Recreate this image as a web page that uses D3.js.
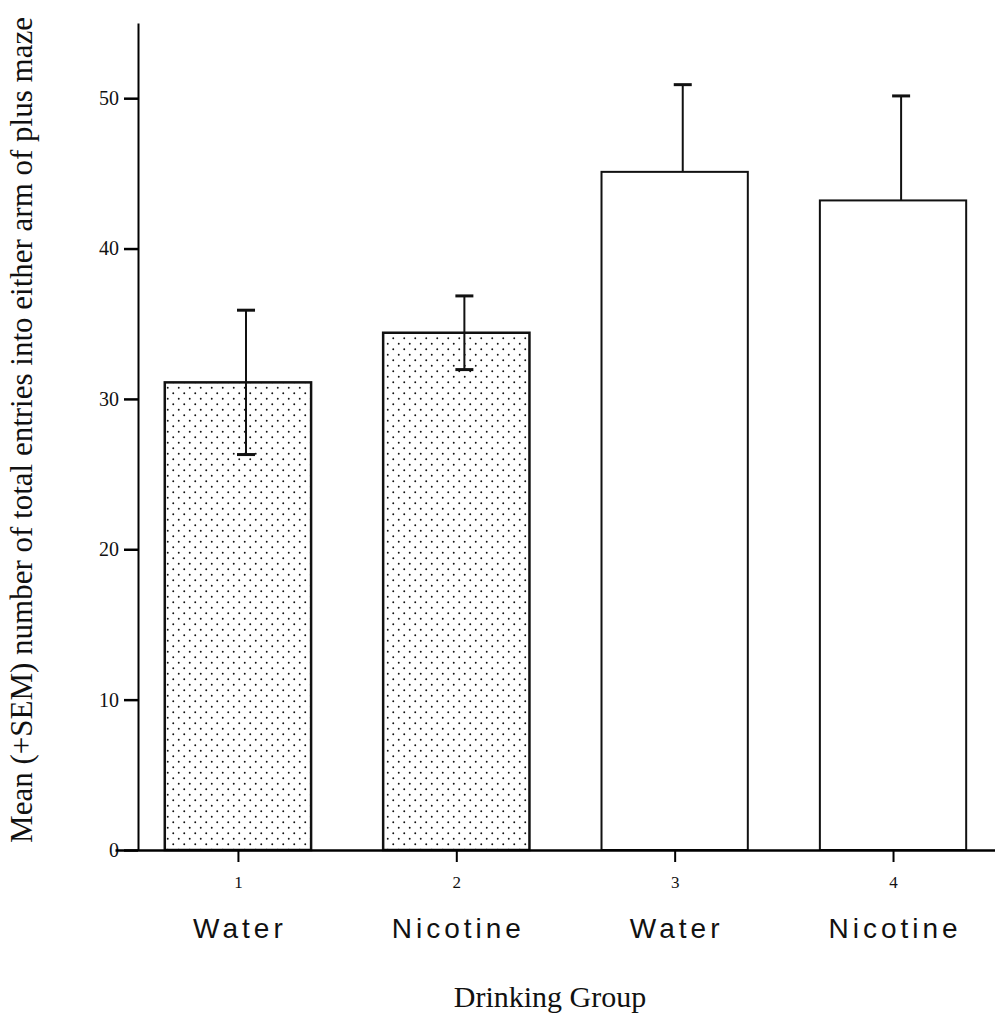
<!DOCTYPE html>
<html>
<head>
<meta charset="utf-8">
<script src="https://cdn.jsdelivr.net/npm/d3@7"></script>
<style>
  body { margin: 0; background: #fff; }
  svg { display: block; }
</style>
</head>
<body>
<div id="chart"></div>
<script>
// Data
const groups = [1, 2, 3, 4];
const groupNames = ["Water", "Nicotine", "Water", "Nicotine"];
const means = [31.1, 34.4, 45.1, 43.2];
const sems = [4.8, 2.45, 5.8, 6.95];
const showLower = [true, true, false, false];
const stippled = [true, true, false, false];
const yTicks = [0, 10, 20, 30, 40, 50];

const width = 995, height = 1014;

const svg = d3.select("#chart")
  .append("svg")
  .attr("width", width)
  .attr("height", height);

// stipple pattern for the first two bars
const defs = svg.append("defs");
const pat = defs.append("pattern")
  .attr("id", "dots")
  .attr("patternUnits", "userSpaceOnUse")
  .attr("width", 11)
  .attr("height", 11);
pat.append("rect").attr("width", 11).attr("height", 11).attr("fill", "#fff");
pat.append("circle").attr("cx", 2.75).attr("cy", 2.75).attr("r", 0.95).attr("fill", "#111");
pat.append("circle").attr("cx", 8.25).attr("cy", 8.25).attr("r", 0.95).attr("fill", "#111");

// Scales
const x = d3.scaleLinear()
  .domain([0.437, 4.467])
  .range([115, 995]);

const y = d3.scaleLinear()
  .domain([0, 55])
  .range([850, 23]);

const barHalf = 0.335;
const errOffset = 0.037;

// Bars
svg.append("g")
  .selectAll("rect")
  .data(groups)
  .enter().append("rect")
  .attr("x", (d, i) => x(d - barHalf))
  .attr("y", (d, i) => y(means[i]))
  .attr("width", d => x(d + barHalf) - x(d - barHalf))
  .attr("height", (d, i) => y(0) - y(means[i]))
  .attr("fill", (d, i) => stippled[i] ? "url(#dots)" : "#fff")
  .attr("stroke", "#111")
  .attr("stroke-width", (d, i) => stippled[i] ? 2.5 : 2);

// Error bars
const err = svg.append("g").attr("stroke", "#111");
groups.forEach((g, i) => {
  const ex = x(g + errOffset);
  const top = y(means[i] + sems[i]);
  const bot = showLower[i] ? y(means[i] - sems[i]) : y(means[i]);
  err.append("line")
    .attr("x1", ex).attr("x2", ex)
    .attr("y1", top).attr("y2", bot)
    .attr("stroke-width", 2);
  err.append("line")
    .attr("x1", ex - 9).attr("x2", ex + 9)
    .attr("y1", top).attr("y2", top)
    .attr("stroke-width", 3);
  if (showLower[i]) {
    err.append("line")
      .attr("x1", ex - 9).attr("x2", ex + 9)
      .attr("y1", bot).attr("y2", bot)
      .attr("stroke-width", 3);
  }
});

// Y axis
const yAxis = svg.append("g")
  .attr("transform", "translate(138,0)")
  .call(d3.axisLeft(y).tickValues(yTicks).tickSize(14).tickPadding(5).tickSizeOuter(0));
yAxis.select(".domain").attr("stroke-width", 2);
yAxis.selectAll(".tick line").attr("stroke-width", 2.5);
yAxis.selectAll(".tick text")
  .style("font-family", "'Liberation Serif', 'Times New Roman', serif")
  .style("font-size", "20px")
  .attr("fill", "#111");

// X axis
const xAxis = svg.append("g")
  .attr("transform", "translate(0,850)")
  .call(d3.axisBottom(x).tickValues(groups).tickFormat(d3.format("d"))
    .tickSize(12).tickPadding(14).tickSizeOuter(0));
xAxis.select(".domain").attr("stroke-width", 2.5);
xAxis.selectAll(".tick line").attr("stroke-width", 2);
xAxis.selectAll(".tick text")
  .style("font-family", "'Liberation Serif', 'Times New Roman', serif")
  .style("font-size", "17px")
  .attr("fill", "#111");

// Group names under the ticks
svg.append("g")
  .selectAll("text")
  .data(groups)
  .enter().append("text")
  .attr("x", d => x(d) + 2)
  .attr("y", 938)
  .style("text-anchor", "middle")
  .style("font-family", "'Liberation Sans', Arial, sans-serif")
  .style("font-size", "28px")
  .style("letter-spacing", "4px")
  .attr("fill", "#111")
  .text((d, i) => groupNames[i]);

// Axis titles
svg.append("text")
  .attr("x", 550)
  .attr("y", 1007)
  .style("text-anchor", "middle")
  .style("font-family", "'Liberation Serif', 'Times New Roman', serif")
  .style("font-size", "30px")
  .attr("fill", "#111")
  .text("Drinking Group");

svg.append("text")
  .attr("transform", "translate(32,430) rotate(-90)")
  .style("text-anchor", "middle")
  .style("font-family", "'Liberation Serif', 'Times New Roman', serif")
  .style("font-size", "31px")
  .attr("fill", "#111")
  .text("Mean (+SEM) number of total entries into either arm of plus maze");
</script>
</body>
</html>
